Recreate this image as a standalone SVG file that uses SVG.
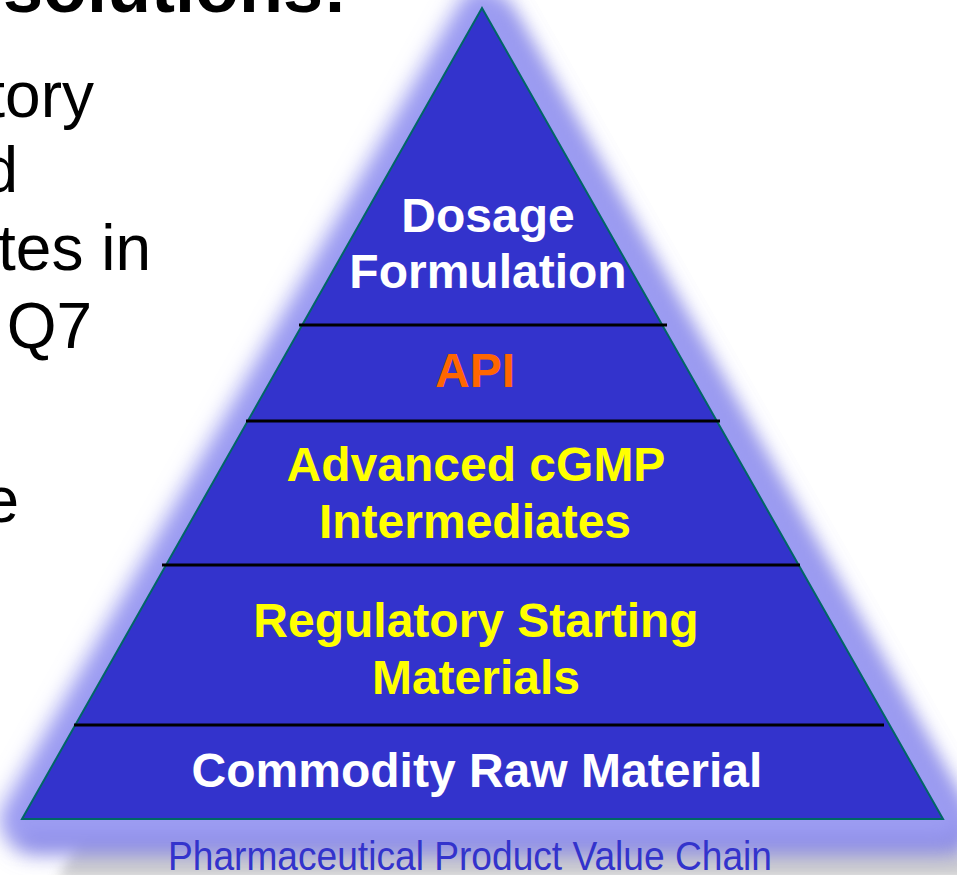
<svg xmlns="http://www.w3.org/2000/svg" width="957" height="875" viewBox="0 0 957 875">
  <defs>
    <filter id="glow" x="-20%" y="-20%" width="140%" height="140%">
      <feGaussianBlur stdDeviation="11"/>
    </filter>
    <filter id="shadow" x="-20%" y="-20%" width="140%" height="140%">
      <feGaussianBlur stdDeviation="6"/>
    </filter>
  </defs>
  <style>
    .body { font-family: "Liberation Sans", Arial, sans-serif; font-size: 64px; fill: #000000; text-anchor: end; }
    .title { font-family: "Liberation Sans", Arial, sans-serif; font-size: 72px; font-weight: bold; fill: #000000; text-anchor: end; }
    .tier { font-family: "Liberation Sans", Arial, sans-serif; font-size: 48px; font-weight: bold; text-anchor: middle; }
    .white { fill: #FFFFFF; }
    .orange { fill: #FF6600; }
    .yellow { fill: #FFFF00; }
    .divider { stroke: #000000; stroke-width: 3; }
    .caption { font-family: "Liberation Sans", Arial, sans-serif; font-size: 41px; fill: #3333CC; text-anchor: middle; }
  </style>

  <rect width="957" height="875" fill="#FFFFFF"/>

  <!-- slide text to the left of the pyramid -->
  <g id="slide-text">
    <text class="title" x="347" y="12">solutions:</text>
    <text class="body" x="94" y="117">tory</text>
    <text class="body" x="18" y="192">d</text>
    <text class="body" x="151" y="270">tes in</text>
    <text class="body" x="92" y="348"> Q7</text>
    <text class="body" x="19" y="522">e</text>
  </g>

  <!-- pyramid body with shadow and glow -->
  <g id="pyramid">
    <polygon points="482,8 22,819 943,819" transform="translate(35,60)" fill="#b0b0b0" opacity="0.6" filter="url(#shadow)"/>
    <polygon points="482,8 22,819 943,819" transform="translate(10,14)" fill="#8484e2" stroke="#8484e2" stroke-width="40" stroke-linejoin="round" filter="url(#glow)"/>
    <polygon points="482,8 22,819 943,819" fill="#9c9cf2" stroke="#9c9cf2" stroke-width="44" stroke-linejoin="round" filter="url(#glow)"/>
    <polygon points="482,8 22,819 943,819" fill="#3333CC" stroke="#006666" stroke-width="2"/>
  </g>

  <!-- tier dividers -->
  <g id="dividers">
    <line class="divider" x1="299" y1="325" x2="667" y2="325"/>
    <line class="divider" x1="246" y1="421" x2="720" y2="421"/>
    <line class="divider" x1="162" y1="565" x2="800" y2="565"/>
    <line class="divider" x1="74" y1="725" x2="884" y2="725"/>
  </g>

  <g id="tier-dosage">
    <text class="tier white" x="488" y="232">Dosage</text>
    <text class="tier white" x="488" y="288">Formulation</text>
  </g>
  <g id="tier-api">
    <text class="tier orange" x="475" y="387">API</text>
  </g>
  <g id="tier-intermediates">
    <text class="tier yellow" x="476" y="481">Advanced cGMP</text>
    <text class="tier yellow" x="475" y="538">Intermediates</text>
  </g>
  <g id="tier-starting">
    <text class="tier yellow" x="476" y="637">Regulatory Starting</text>
    <text class="tier yellow" x="476" y="694">Materials</text>
  </g>
  <g id="tier-commodity">
    <text class="tier white" x="477" y="787">Commodity Raw Material</text>
  </g>

  <g id="caption">
    <text class="caption" x="470" y="870" textLength="604" lengthAdjust="spacingAndGlyphs">Pharmaceutical Product Value Chain</text>
  </g>
</svg>
